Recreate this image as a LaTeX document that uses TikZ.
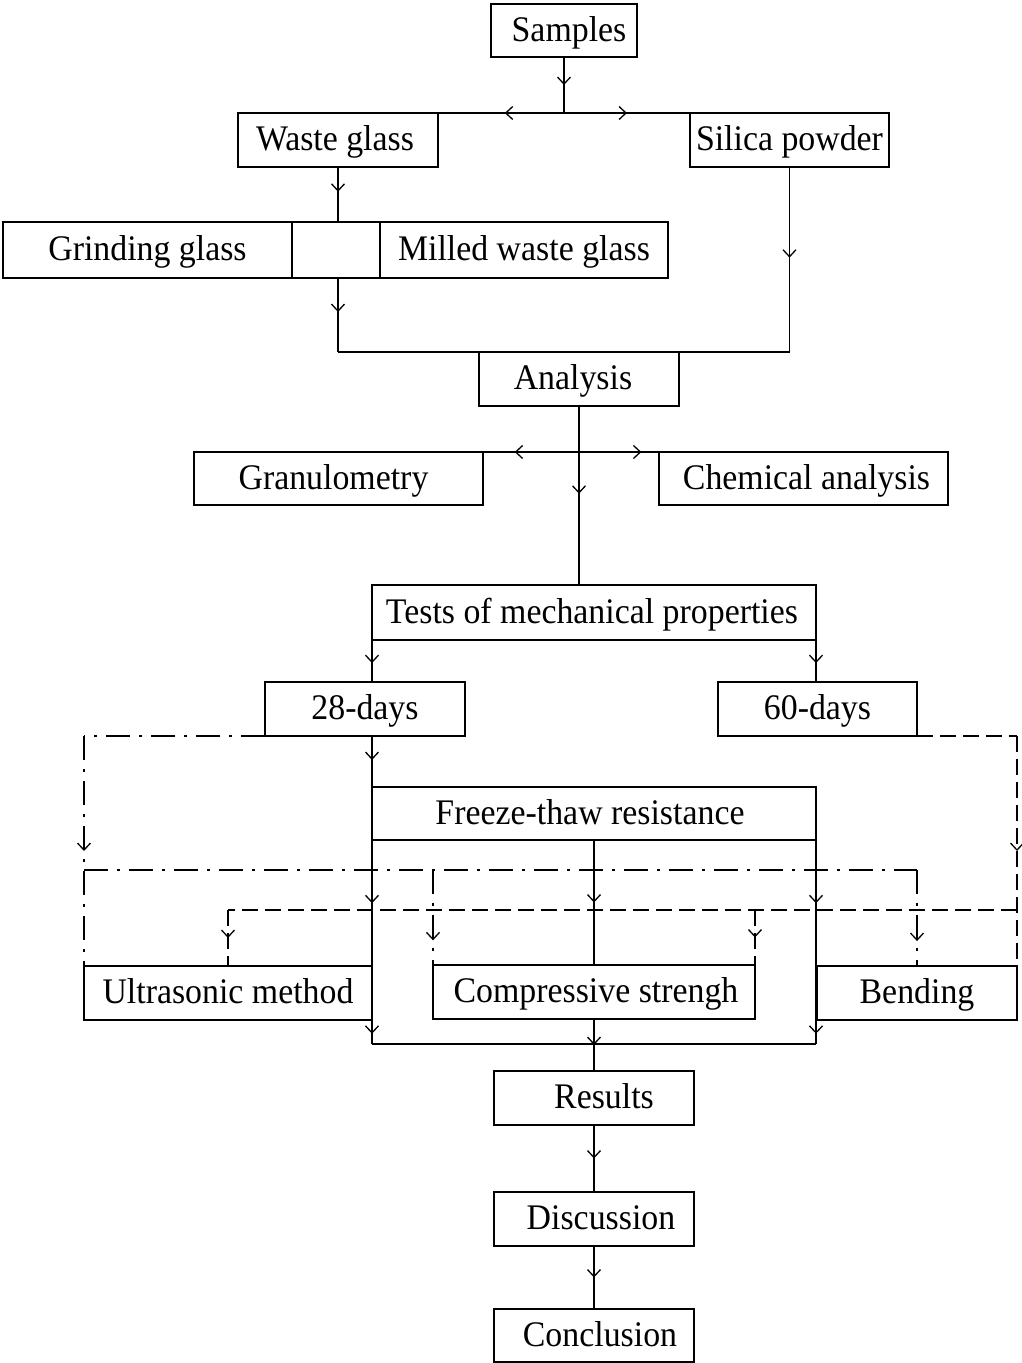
\documentclass[tikz,border=0pt]{standalone}
\usepackage{fontspec}
\setmainfont{Liberation Serif}[FakeStretch=0.94]
\usetikzlibrary{arrows.meta,decorations.markings}
\begin{document}
\begin{tikzpicture}[x=1pt,y=-1pt,
 box/.style={draw,line width=2.3pt,inner sep=0pt,outer sep=0pt,font=\fontsize{36}{42}\selectfont,text height=26pt,text depth=5pt},
 conn/.style={line width=1.3pt},
 dashdot/.style={line width=1.3pt,dash pattern=on 24pt off 9pt on 3pt off 9pt},
 dashline/.style={line width=1.3pt,dash pattern=on 16pt off 7pt},
 arr/.style={postaction={decorate,decoration={markings,mark=at position #1 with {\arrow{Straight Barb[length=7pt,width=13pt,line width=1.3pt]}}}}}
]
\useasboundingbox (0,0) rectangle (1022,1363);

% boxes
\node[box,minimum width=146pt,minimum height=53pt] (samples) at (564,30.5) {\hspace*{10pt}Samples};
\node[box,minimum width=200pt,minimum height=54pt] (waste) at (338,140) {Waste glass\hspace*{6pt}};
\node[box,minimum width=199pt,minimum height=54pt] (silica) at (789.5,140) {Silica powder};
\node[box,minimum width=289pt,minimum height=56pt] (grind) at (147.5,250) {Grinding glass};
\node[box,minimum width=288pt,minimum height=56pt] (milled) at (524,250) {Milled waste glass};
\node[box,minimum width=200pt,minimum height=54pt] (analysis) at (579,379) {Analysis\hspace*{12pt}};
\node[box,minimum width=289pt,minimum height=53pt] (granul) at (338.5,478.5) {Granulometry\hspace*{10pt}};
\node[box,minimum width=289pt,minimum height=53pt] (chem) at (803.5,478.5) {\hspace*{6pt}Chemical analysis};
\node[box,minimum width=444pt,minimum height=55pt] (tests) at (594,612.5) {Tests of mechanical properties\hspace*{4pt}};
\node[box,minimum width=200pt,minimum height=54pt] (d28) at (365,709) {28-days};
\node[box,minimum width=199pt,minimum height=54pt] (d60) at (817.5,709) {60-days};
\node[box,minimum width=444pt,minimum height=53pt] (freeze) at (594,813.5) {Freeze-thaw resistance\hspace*{8pt}};
\node[box,minimum width=288pt,minimum height=54pt] (ultra) at (228,993) {Ultrasonic method};
\node[box,minimum width=322pt,minimum height=54pt] (comp) at (594,992) {\hspace*{4pt}Compressive strengh};
\node[box,minimum width=200pt,minimum height=54pt] (bend) at (917,993) {Bending};
\node[box,minimum width=200pt,minimum height=54pt] (results) at (594,1098) {\hspace*{20pt}Results};
\node[box,minimum width=200pt,minimum height=54pt] (discuss) at (594,1219) {\hspace*{14pt}Discussion};
\node[box,minimum width=200pt,minimum height=53pt] (concl) at (594,1335.5) {\hspace*{12pt}Conclusion};

% samples split
\coordinate (j1) at (samples.south |- waste.north);
\draw[conn,arr=0.5] (samples.south) -- (j1);
\draw[conn,arr=0.47] (j1) -- (waste.north east);
\draw[conn,arr=0.5] (j1) -- (silica.north west);

% grinding / milled
\draw[conn] (grind.north east) -- (milled.north west);
\draw[conn] (grind.south east) -- (milled.south west);
\coordinate (gtop) at (waste.south |- grind.north);
\coordinate (gbot) at (waste.south |- grind.south);
\draw[conn,arr=0.45] (waste.south) -- (gtop);
\coordinate (c1) at (gbot |- analysis.north);
\coordinate (c2) at (silica.south |- analysis.north);
\draw[conn,arr=0.46] (gbot) -- (c1);
\draw[conn] (c1) -- (c2);
\draw[conn,arr=0.49] (silica.south) -- (c2);

% analysis
\coordinate (t1) at (analysis.south |- tests.north);
\draw[conn,arr=0.49] (analysis.south) -- (t1);
\coordinate (j2) at (analysis.south |- granul.north);
\draw[conn,arr=0.67] (j2) -- (granul.north east);
\draw[conn,arr=0.78] (j2) -- (chem.north west);

% tests
\coordinate (t28) at (tests.south west |- d28.north);
\draw[conn,arr=0.55] (tests.south west) -- (t28);
\coordinate (t60) at (tests.south east |- d60.north);
\draw[conn,arr=0.55] (tests.south east) -- (t60);
\coordinate (f28) at (freeze.north west |- d28.south);
\draw[conn,arr=0.47] (f28) -- (freeze.north west);

% freeze-thaw
\coordinate (bl) at (372,1044);
\coordinate (br) at (816,1044);
\draw[conn,arr=0.31,arr=0.95] (freeze.south west) -- (bl);
\draw[conn,arr=0.31,arr=0.95] (freeze.south east) -- (br);
\draw[conn,arr=0.5] (freeze.south) -- (comp.north);
\draw[conn] (bl) -- (br);
\draw[conn,arr=0.5] (comp.south) -- (results.north);
\draw[conn,arr=0.5] (results.south) -- (discuss.north);
\draw[conn,arr=0.5] (discuss.south) -- (concl.north);

% dash-dot (28 days)
\coordinate (dl1) at (ultra.north west |- d28.south);
\draw[dashdot] (d28.south west) -- (dl1);
\draw[dashdot,arr=0.5] (dl1) -- (ultra.north west);
\coordinate (dh1) at (84,870);
\coordinate (dh2) at (bend.north |- dh1);
\coordinate (dh3) at (comp.north west |- dh1);
\draw[dashdot] (dh1) -- (dh2);
\draw[dashdot,arr=0.74] (dh2) -- (bend.north);
\draw[dashdot,arr=0.74] (dh3) -- (comp.north west);

% dashed (60 days)
\coordinate (dr1) at (bend.north east |- d60.south);
\draw[dashline] (d60.south east) -- (dr1);
\draw[dashline,arr=0.5] (dr1) -- (bend.north east);
\coordinate (dk1) at (1017,910);
\coordinate (dk2) at (ultra.north |- dk1);
\coordinate (dk3) at (comp.north east |- dk1);
\draw[dashline] (dk1) -- (dk2);
\draw[dashline,arr=0.5] (dk2) -- (ultra.north);
\draw[dashline,arr=0.5] (dk3) -- (comp.north east);
\end{tikzpicture}
\end{document}
